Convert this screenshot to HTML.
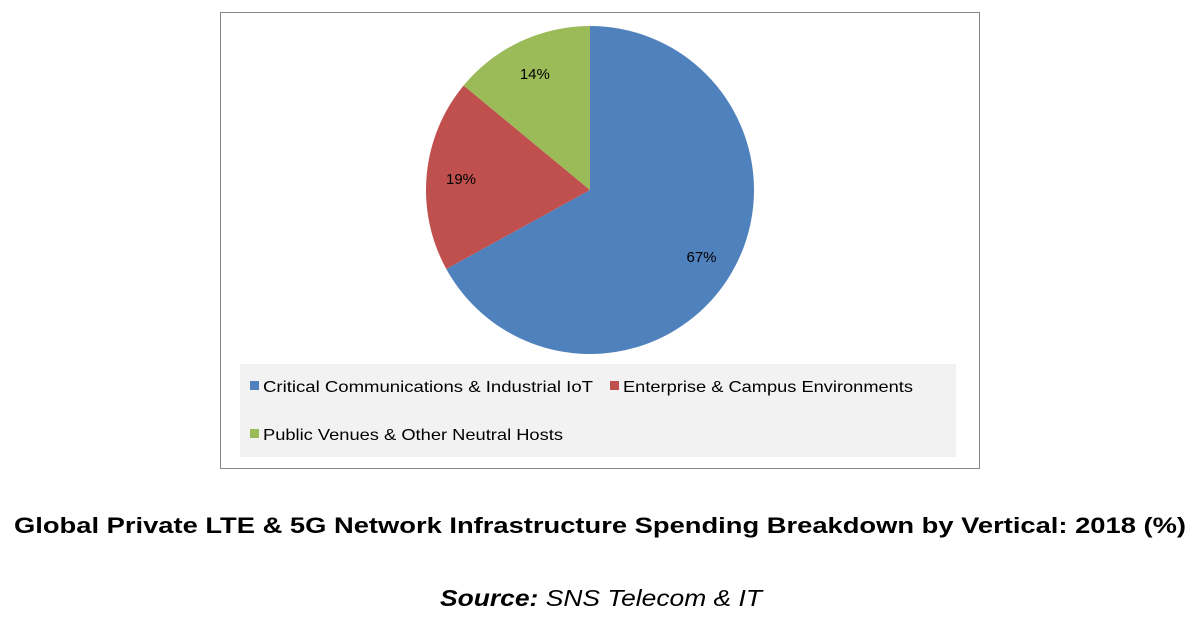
<!DOCTYPE html>
<html><head><meta charset="utf-8"><style>
body{margin:0;background:#fff;width:1199px;height:643px;overflow:hidden;font-family:"Liberation Sans",sans-serif;}
</style></head><body>
<svg width="1199" height="643" style="position:absolute;left:0;top:0">
<rect x="220.5" y="12.5" width="759" height="456" fill="#fff" stroke="#868686"/>
<g id="slices"></g>
<rect x="240" y="364" width="716" height="93" fill="#f2f2f2"/>
<g id="legend" font-family="Liberation Sans, sans-serif" font-size="16" fill="#000"></g>
<text x="14" y="533" font-family="Liberation Sans, sans-serif" font-weight="bold" font-size="22" textLength="1172" lengthAdjust="spacingAndGlyphs">Global Private LTE &amp; 5G Network Infrastructure Spending Breakdown by Vertical: 2018 (%)</text>
<text x="440" y="606" font-family="Liberation Sans, sans-serif" font-style="italic" font-size="23" textLength="322" lengthAdjust="spacingAndGlyphs"><tspan font-weight="bold">Source:</tspan> SNS Telecom &amp; IT</text>
</svg>
<script>
const categories=["Critical Communications & Industrial IoT","Enterprise & Campus Environments","Public Venues & Other Neutral Hosts"];
const values=[67,19,14];
const colors=["#4f81bd","#c0504d","#9bbb59"];
const cx=590,cy=190,R=164;
const ns="http://www.w3.org/2000/svg";
const g=document.getElementById('slices');
const total=values.reduce((a,b)=>a+b,0);
let acc=0;
function pt(f,r){const a=f*2*Math.PI;return [cx+r*Math.sin(a),cy-r*Math.cos(a)];}
values.forEach((v,i)=>{
  const f0=acc/total,f1=(acc+v)/total;acc+=v;
  const p0=pt(f0,R),p1=pt(f1,R);
  const large=(f1-f0)>0.5?1:0;
  const p=document.createElementNS(ns,'path');
  p.setAttribute('d',`M${cx},${cy}L${p0[0]},${p0[1]}A${R},${R} 0 ${large} 1 ${p1[0]},${p1[1]}Z`);
  p.setAttribute('fill',colors[i]);
  
  
  g.appendChild(p);
  const lp=pt((f0+f1)/2,R*0.79);
  const t=document.createElementNS(ns,'text');
  t.setAttribute('x',lp[0]);t.setAttribute('y',lp[1]+6);
  t.setAttribute('text-anchor','middle');t.setAttribute('font-size','15');
  t.setAttribute('font-family','Liberation Sans, sans-serif');
  t.textContent=v+'%';
  
  
  g.appendChild(t);
});
const lg=document.getElementById('legend');
const lpos=[[250,386],[610,386],[250,434]];
categories.forEach((c,i)=>{
  const r=document.createElementNS(ns,'rect');
  r.setAttribute('x',lpos[i][0]);r.setAttribute('y',lpos[i][1]-5);
  r.setAttribute('width',9);r.setAttribute('height',9);r.setAttribute('fill',colors[i]);
  
  
  lg.appendChild(r);
  const t=document.createElementNS(ns,'text');
  t.setAttribute('x',lpos[i][0]+13);t.setAttribute('y',lpos[i][1]+6);
  t.textContent=c;
  t.setAttribute('textLength', i==0?330:(i==1?290:300));
  t.setAttribute('lengthAdjust','spacingAndGlyphs');
  
  
  lg.appendChild(t);
});
</script>
</body></html>
